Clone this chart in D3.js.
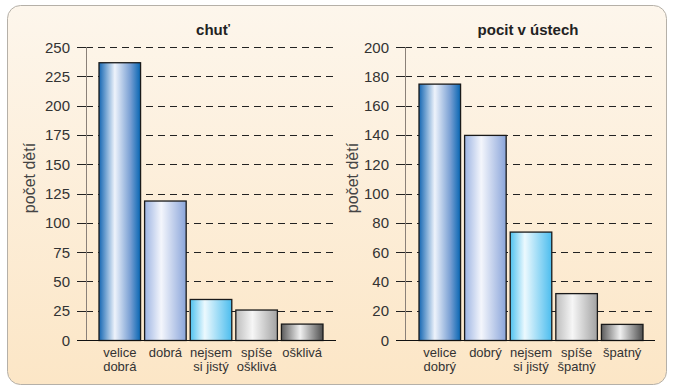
<!DOCTYPE html>
<meta charset="utf-8">
<style>
body { margin: 0; background: #fff; }
svg { display: block; font-family: "Liberation Sans", Arial, sans-serif; }
.grid line { stroke: #222; stroke-dasharray: 7 5; stroke-width: 1; }
.tick-lbl { font-size: 15px; fill: #333; }
.cat { font-size: 13px; fill: #333; }
.title { font-size: 15px; font-weight: bold; fill: #222; }
.ylab { font-size: 16px; fill: #444; }
</style>
<svg width="673" height="392"></svg>
<script src="https://d3js.org/d3.v7.min.js"></script>
<script>
let svg = d3.select("svg");

// chart 1: chuť
let tasteCats = ["velice\ndobrá", "dobrá", "nejsem\nsi jistý", "spíše\nošklivá", "ošklivá"];
let tasteVals = [237, 119, 35, 26, 14];
let tasteTicks = [0, 25, 50, 75, 100, 125, 150, 175, 200, 225, 250];

// chart 2: pocit v ústech
let mouthCats = ["velice\ndobrý", "dobrý", "nejsem\nsi jistý", "spíše\nšpatný", "špatný"];
let mouthVals = [175, 140, 74, 32, 11];
let mouthTicks = [0, 20, 40, 60, 80, 100, 120, 140, 160, 180, 200];

let barColors = [
  [["0", "#1567b3"], ["0.38", "#eef3fb"], ["0.75", "#7aa0d4"], ["1", "#0665b2"]],
  [["0", "#9db4e2"], ["0.4", "#f4f6fc"], ["1", "#8aa5da"]],
  [["0", "#4fc2ef"], ["0.35", "#ecf9fe"], ["1", "#4cbdee"]],
  [["0", "#bdbdbd"], ["0.4", "#f6f6f6"], ["1", "#a2a2a2"]],
  [["0", "#5c5c5c"], ["0.45", "#f0f0f0"], ["1", "#4d4d4d"]]
];

let defs = svg.append("defs");
let bg = defs.append("linearGradient").attr("id", "bg")
  .attr("x1", 0).attr("y1", 0).attr("x2", 0).attr("y2", 1);
bg.append("stop").attr("offset", "0").attr("stop-color", "#fdf6ec");
bg.append("stop").attr("offset", "1").attr("stop-color", "#fce6c6");

barColors.forEach(function(stops, i) {
  let g = defs.append("linearGradient").attr("id", "bar" + i)
    .attr("x1", 0).attr("y1", 0).attr("x2", 1).attr("y2", 0);
  stops.forEach(function(s) {
    g.append("stop").attr("offset", s[0]).attr("stop-color", s[1]);
  });
});

svg.append("rect")
  .attr("x", 7.5).attr("y", 5.5).attr("width", 659).attr("height", 379)
  .attr("rx", 13).attr("fill", "url(#bg)")
  .attr("stroke", "#b5b0a8").attr("stroke-width", 1);

function drawChart(opt) {
  let g = svg.append("g");
  let y = d3.scaleLinear().domain([0, opt.max]).range([340, 47]);
  let x = d3.scaleBand().domain(d3.range(opt.cats.length))
    .range([opt.bandLeft, opt.bandLeft + 225]).paddingInner(3 / 45).paddingOuter(0);

  // dashed gridlines
  g.append("g").attr("class", "grid")
    .selectAll("line").data(opt.ticks.filter(function(d) { return d > 0; }))
    .enter().append("line")
    .attr("x1", opt.axisX).attr("x2", opt.gridRight)
    .attr("y1", function(d) { return Math.round(y(d)) + 0.5; })
    .attr("y2", function(d) { return Math.round(y(d)) + 0.5; });

  // tick marks
  g.append("g").selectAll("line").data(opt.ticks).enter().append("line")
    .attr("x1", opt.axisX - 9).attr("x2", opt.axisX)
    .attr("y1", function(d) { return Math.round(y(d)) + 0.5; })
    .attr("y2", function(d) { return Math.round(y(d)) + 0.5; })
    .attr("stroke", "#222");

  g.append("g").selectAll("text").data(opt.ticks).enter().append("text")
    .attr("class", "tick-lbl")
    .attr("x", opt.axisX - 16)
    .attr("y", function(d) { return y(d) + 5.5; })
    .attr("text-anchor", "end")
    .text(function(d) { return d; });

  // vertical axis line
  g.append("line")
    .attr("x1", opt.axisX + 0.5).attr("x2", opt.axisX + 0.5)
    .attr("y1", y(opt.max)).attr("y2", 340)
    .attr("stroke", "#8a8078").attr("stroke-width", 1);

  // bars
  g.append("g").selectAll("rect").data(opt.vals).enter().append("rect")
    .attr("x", function(d, i) { return x(i) + 0.5; })
    .attr("y", function(d) { return y(d) + 0.5; })
    .attr("width", x.bandwidth() - 1)
    .attr("height", function(d) { return 340 - y(d); })
    .attr("fill", function(d, i) { return "url(#bar" + i + ")"; })
    .attr("stroke", "#1a1a1a").attr("stroke-width", 1.3);

  // baseline
  g.append("line")
    .attr("x1", opt.axisX - 9).attr("x2", opt.gridRight)
    .attr("y1", 340.5).attr("y2", 340.5)
    .attr("stroke", "#111").attr("stroke-width", 1.2);

  // category labels
  g.append("g").selectAll("text").data(opt.cats).enter().append("text")
    .attr("class", "cat")
    .attr("text-anchor", "middle")
    .attr("transform", function(d, i) {
      return "translate(" + (x(i) + x.bandwidth() / 2) + ",357)";
    })
    .each(function(d) {
      let t = d3.select(this);
      d.split("\n").forEach(function(line, k) {
        t.append("tspan").attr("x", 0).attr("dy", k === 0 ? 0 : 14).text(line);
      });
    });

  g.append("text").attr("class", "title")
    .attr("x", opt.titleX).attr("y", 35)
    .attr("text-anchor", "middle").text(opt.title);

  g.append("text").attr("class", "ylab")
    .attr("transform", "translate(" + opt.ylabX + ",178) rotate(-90)")
    .attr("text-anchor", "middle").text("počet dětí");
}

drawChart({
  cats: tasteCats, vals: tasteVals, ticks: tasteTicks, max: 250,
  axisX: 86, gridRight: 336, bandLeft: 98.5, title: "chuť", titleX: 213, ylabX: 35
});
drawChart({
  cats: mouthCats, vals: mouthVals, ticks: mouthTicks, max: 200,
  axisX: 405, gridRight: 655, bandLeft: 418.5, title: "pocit v ústech", titleX: 528, ylabX: 358
});
</script>
